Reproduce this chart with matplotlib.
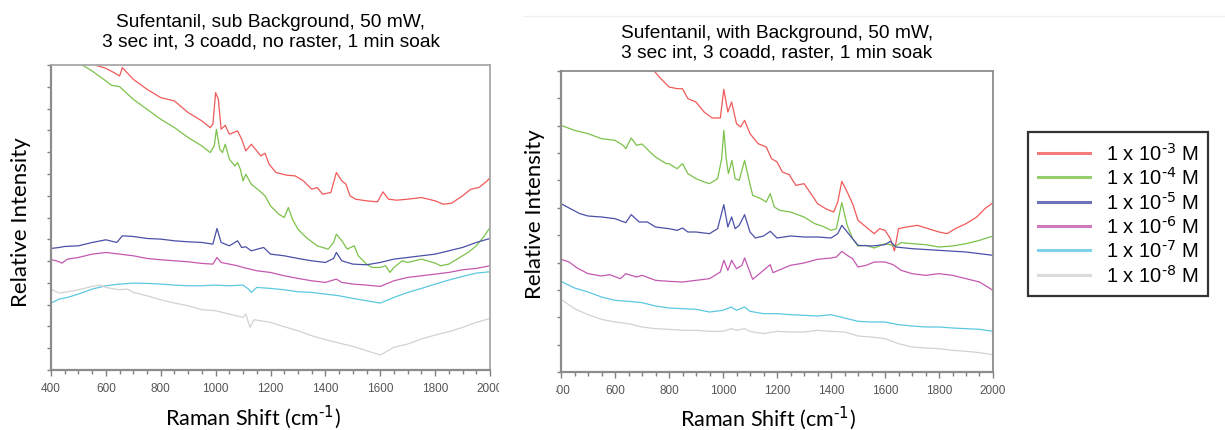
import matplotlib
matplotlib.use("Agg")
import matplotlib.pyplot as plt
from matplotlib.ticker import MultipleLocator
from matplotlib.lines import Line2D
from matplotlib.patches import Rectangle

plt.rcParams['font.family'] = ['Liberation Sans', 'DejaVu Sans']

# ---------------- data (arbitrary intensity units) ----------------
labels = ['1 x 10$^{\\text{-3}}$ M', '1 x 10$^{\\text{-4}}$ M',
          '1 x 10$^{\\text{-5}}$ M', '1 x 10$^{\\text{-6}}$ M',
          '1 x 10$^{\\text{-7}}$ M', '1 x 10$^{\\text{-8}}$ M']
colors = ['#f05a5a', '#7cc24a', '#4a50a8', '#c458b0', '#5cc8e0', '#d2d2d2']

# left panel: sub background, no raster
l_red_x = [500, 560, 600, 630, 650, 660, 700, 750, 800, 850, 900, 950, 980, 990, 1000, 1010, 1020, 1035, 1050,
           1080, 1095, 1110, 1130, 1150, 1165, 1180, 1195, 1220, 1260, 1290, 1320, 1350, 1370, 1390, 1420, 1440,
           1460, 1475, 1490, 1510, 1550, 1590, 1610, 1630, 1660, 1700, 1750, 1800, 1830, 1860, 1900, 1930, 1960,
           1990, 2000]
l_red_y = [960, 916, 906, 893, 883, 908, 873, 843, 818, 808, 773, 748, 728, 738, 833, 813, 723, 735, 708,
           718, 693, 658, 678, 658, 643, 651, 618, 593, 585, 583, 568, 543, 548, 528, 533, 593,
           568, 558, 523, 513, 508, 505, 535, 513, 510, 513, 518, 508, 498, 501, 523, 543, 548,
           568, 578]

l_grn_x = [480, 510, 550, 600, 620, 650, 700, 750, 800, 850, 900, 950, 980, 995, 1003, 1015, 1025, 1035, 1050,
           1070, 1080, 1090, 1100, 1110, 1130, 1160, 1180, 1200, 1230, 1250, 1265, 1280, 1300, 1330, 1370, 1410,
           1430, 1440, 1460, 1480, 1505, 1520, 1550, 1570, 1600, 1620, 1635, 1650, 1680, 1700, 1750, 1800, 1820,
           1850, 1880, 1920, 1950, 1980, 2000]
l_grn_y = [933, 918, 898, 868, 855, 851, 813, 783, 753, 728, 698, 673, 653, 673, 723, 663, 653, 678, 633,
           613, 623, 603, 568, 588, 558, 538, 523, 493, 468, 458, 488, 453, 423, 398, 373, 363,
           383, 408, 388, 363, 373, 343, 318, 308, 308, 313, 293, 308, 328, 323, 333, 321, 313,
           318, 333, 353, 373, 403, 428]

l_blu_x = [400, 430, 450, 500, 550, 600, 640, 660, 700, 750, 800, 850, 900, 950, 990, 1005, 1020, 1050, 1080,
           1095, 1110, 1130, 1175, 1200, 1250, 1300, 1350, 1400, 1430, 1440, 1460, 1500, 1550, 1600, 1650, 1700,
           1750, 1800, 1850, 1900, 1950, 2000]
l_blu_y = [365, 368, 371, 373, 383, 391, 383, 403, 401, 395, 393, 388, 385, 383, 378, 425, 383, 373, 388,
           368, 370, 358, 368, 348, 343, 335, 328, 323, 335, 353, 328, 318, 316, 323, 333, 338,
           343, 348, 358, 368, 383, 395]

l_mag_x = [400, 420, 440, 460, 500, 550, 600, 650, 700, 750, 800, 850, 900, 950, 990, 1005, 1020, 1050, 1080,
           1100, 1150, 1200, 1250, 1300, 1350, 1400, 1440, 1460, 1500, 1550, 1600, 1650, 1700, 1750, 1800, 1850,
           1900, 1950, 2000]
l_mag_y = [331, 328, 321, 333, 338, 348, 353, 348, 343, 335, 331, 328, 325, 320, 318, 338, 323, 318, 313,
           308, 298, 293, 283, 275, 268, 263, 273, 263, 258, 255, 251, 268, 278, 283, 288, 293,
           301, 305, 313]

l_cyn_x = [400, 430, 460, 500, 550, 600, 650, 700, 750, 800, 850, 900, 950, 1000, 1050, 1100, 1120, 1130, 1150,
           1200, 1250, 1300, 1350, 1400, 1450, 1500, 1550, 1600, 1650, 1700, 1750, 1800, 1850, 1900, 1950, 2000]
l_cyn_y = [201, 213, 218, 228, 243, 253, 258, 261, 260, 258, 255, 253, 253, 255, 253, 255, 243, 233, 248,
           245, 241, 235, 233, 228, 223, 215, 208, 201, 218, 233, 245, 258, 270, 281, 291, 295]

l_gry_x = [400, 430, 460, 500, 550, 580, 600, 650, 680, 700, 750, 800, 850, 900, 950, 1000, 1050, 1100, 1110,
           1125, 1140, 1200, 1250, 1300, 1350, 1400, 1450, 1500, 1550, 1600, 1650, 1700, 1750, 1800, 1850, 1900,
           1950, 2000]
l_gry_y = [243, 231, 235, 241, 251, 255, 248, 241, 243, 233, 223, 211, 201, 193, 181, 178, 168, 158, 168,
           128, 151, 143, 130, 118, 103, 91, 81, 71, 58, 45, 68, 78, 93, 105, 115, 128,
           143, 155]

# right panel: with background, raster
r_red_x = [720, 745, 770, 800, 830, 850, 870, 900, 930, 960, 990, 1003, 1018, 1032, 1050, 1065, 1080, 1100, 1130,
           1160, 1180, 1200, 1220, 1245, 1270, 1300, 1330, 1350, 1380, 1410, 1425, 1440, 1460, 1480, 1500, 1530,
           1560, 1580, 1600, 1620, 1635, 1650, 1680, 1720, 1760, 1800, 1830, 1860, 1900, 1940, 1970, 2000]
r_red_y = [925, 903, 880, 855, 850, 850, 820, 810, 780, 762, 762, 848, 780, 810, 745, 735, 755, 715, 685,
           675, 640, 630, 600, 592, 560, 565, 530, 505, 490, 480, 510, 572, 540, 505, 455, 435,
           415, 430, 425, 400, 363, 430, 435, 440, 430, 420, 415, 430, 445, 465, 490, 508]

r_grn_x = [400, 450, 500, 550, 600, 630, 640, 660, 680, 700, 730, 750, 790, 800, 830, 850, 870, 900, 930, 950,
           980, 995, 1003, 1012, 1020, 1033, 1045, 1060, 1080, 1095, 1110, 1140, 1160, 1175, 1190, 1210, 1250,
           1300, 1340, 1370, 1400, 1420, 1440, 1460, 1480, 1500, 1530, 1560, 1600, 1640, 1660, 1700, 1750, 1800,
           1850, 1900, 1950, 2000]
r_grn_y = [740, 725, 715, 700, 695, 680, 670, 702, 680, 684, 660, 645, 625, 625, 610, 625, 595, 580, 570, 565,
           580, 640, 725, 640, 595, 635, 580, 575, 635, 580, 530, 520, 510, 535, 495, 485, 480,
           465, 445, 437, 425, 430, 508, 440, 400, 378, 380, 372, 385, 378, 388, 385, 382, 375,
           378, 385, 395, 408]

r_blu_x = [400, 430, 470, 500, 550, 600, 640, 660, 690, 720, 750, 800, 830, 850, 870, 900, 950, 980, 1003, 1018,
           1032, 1045, 1060, 1080, 1100, 1120, 1150, 1175, 1200, 1250, 1300, 1350, 1400, 1425, 1440, 1460, 1480,
           1500, 1550, 1600, 1620, 1640, 1700, 1800, 1900, 2000]
r_blu_y = [505, 492, 475, 468, 465, 460, 448, 472, 450, 450, 435, 430, 425, 432, 420, 420, 415, 430, 502, 435,
           465, 430, 440, 472, 420, 402, 408, 422, 402, 408, 405, 405, 402, 415, 440, 420, 400,
           380, 378, 382, 392, 375, 370, 365, 360, 350]

r_mag_x = [400, 430, 460, 500, 550, 580, 620, 640, 680, 700, 750, 800, 850, 900, 950, 990, 1003, 1018, 1032,
           1050, 1070, 1080, 1095, 1110, 1150, 1175, 1185, 1220, 1250, 1300, 1350, 1400, 1420, 1440, 1460, 1480,
           1500, 1530, 1560, 1600, 1630, 1660, 1700, 1750, 1800, 1850, 1900, 1950, 2000]
r_mag_y = [338, 330, 312, 295, 288, 292, 280, 295, 285, 290, 275, 272, 270, 275, 280, 300, 335, 305, 335,
           310, 320, 342, 310, 278, 305, 322, 298, 310, 320, 327, 338, 342, 345, 362, 350, 340,
           315, 320, 330, 330, 322, 305, 295, 290, 295, 290, 280, 270, 245]

r_cyn_x = [400, 450, 500, 550, 600, 650, 700, 750, 800, 850, 900, 950, 1000, 1030, 1050, 1080, 1100, 1150, 1200,
           1250, 1300, 1350, 1400, 1450, 1500, 1550, 1600, 1650, 1700, 1750, 1800, 1850, 1900, 1950, 2000]
r_cyn_y = [272, 252, 240, 225, 215, 212, 208, 198, 192, 190, 188, 180, 185, 195, 185, 195, 182, 175, 175,
           172, 170, 168, 172, 162, 152, 150, 150, 142, 138, 135, 135, 132, 130, 128, 122]

r_gry_x = [400, 450, 500, 550, 600, 650, 700, 750, 800, 850, 900, 950, 1000, 1030, 1050, 1080, 1100, 1150, 1200,
           1250, 1300, 1350, 1400, 1450, 1500, 1550, 1600, 1650, 1700, 1750, 1800, 1850, 1900, 1950, 2000]
r_gry_y = [218, 190, 172, 158, 150, 145, 135, 130, 128, 125, 125, 122, 122, 130, 125, 130, 122, 115, 122,
           120, 120, 125, 122, 120, 108, 105, 100, 85, 75, 72, 70, 65, 62, 58, 52]

left_series = [(l_red_x, l_red_y), (l_grn_x, l_grn_y), (l_blu_x, l_blu_y),
               (l_mag_x, l_mag_y), (l_cyn_x, l_cyn_y), (l_gry_x, l_gry_y)]
right_series = [(r_red_x, r_red_y), (r_grn_x, r_grn_y), (r_blu_x, r_blu_y),
                (r_mag_x, r_mag_y), (r_cyn_x, r_cyn_y), (r_gry_x, r_gry_y)]

titles = ['Sufentanil, sub Background, 50 mW,\n3 sec int, 3 coadd, no raster, 1 min soak',
          'Sufentanil, with Background, 50 mW,\n3 sec int, 3 coadd, raster, 1 min soak']

W, H = 1225, 431
fig = plt.figure(figsize=(W / 100, H / 100), dpi=100)

# axes boxes in pixels: (left, top, right, bottom)
boxes = [(51, 66, 490, 371), (561, 72, 993, 373)]
ytops = [916, 903]
ysteps = [916 / 14, 903 / 11]
title_pads = [14.2, 10.8]
top_spine = ['#a8a8a8', '#8c8c8c']
xlab_pos = [(0.46, -0.108), (0.479, -0.104)]
ylab_pos = [(-0.046, 0.487), (-0.036, 0.527)]
label_font = ['Lato', 'DejaVu Sans']

axes = []
for i, (l, t, r, b) in enumerate(boxes):
    ax = fig.add_axes([l / W, 1 - b / H, (r - l) / W, (b - t) / H])
    series = left_series if i == 0 else right_series
    for (xs, ys), c, lab in zip(series, colors, labels):
        ax.plot(xs, ys, color=c, lw=0.9, label=lab)
    ax.set_xlim(400, 2000)
    ax.set_ylim(0, ytops[i])
    ax.set_xticks(range(400, 2001, 200))
    ax.xaxis.set_minor_locator(MultipleLocator(50))
    ax.yaxis.set_major_locator(MultipleLocator(ysteps[i]))
    ax.set_yticklabels([])
    ax.tick_params(axis='both', which='both', direction='out', color='#808080', width=1)
    ax.tick_params(axis='x', which='major', length=4, labelsize=8.5, labelcolor='#555555', pad=5)
    ax.tick_params(axis='x', which='minor', length=3)
    ax.tick_params(axis='y', which='major', length=3)
    for side in ['left', 'bottom']:
        ax.spines[side].set_color('#8c8c8c')
        ax.spines[side].set_linewidth(1.6)
    for side in ['top', 'right']:
        ax.spines[side].set_color(top_spine[i])
        ax.spines[side].set_linewidth(1.3)
    ax.set_title(titles[i], fontsize=13.8, pad=title_pads[i], linespacing=1.15)
    ax.set_ylabel('Relative Intensity', fontsize=16, family=label_font)
    ax.yaxis.set_label_coords(*ylab_pos[i])
    ax.set_xlabel('Raman Shift (cm$^{\\text{-1}}$)', fontsize=15.5, family=label_font)
    ax.xaxis.set_label_coords(*xlab_pos[i])
    axes.append(ax)

# the two panels were cropped screenshots: hide the cut-off parts of the edge tick labels
fig.add_artist(Rectangle((499 / W, 1 - 396 / H), 57 / W, 20 / H, transform=fig.transFigure,
                         facecolor='white', edgecolor='none', zorder=10))

# faint screenshot edge above right panel
fig.add_artist(Line2D([523 / W, 1], [1 - 17 / H, 1 - 17 / H], color='#f0f0f0', lw=1))

leg = fig.legend(*axes[0].get_legend_handles_labels(), loc='upper left',
                 bbox_to_anchor=(1028 / W, 1 - 133 / H), borderaxespad=0,
                 fontsize=14.5, frameon=True, fancybox=False, handlelength=2.6,
                 handletextpad=0.75, labelspacing=0.12, borderpad=0.5)
leg.get_frame().set_edgecolor('black')
leg.get_frame().set_linewidth(1.6)
for h in leg.get_lines():
    h.set_linewidth(2.2)
    h.set_alpha(0.8)

fig.savefig('out.png', dpi=100)
